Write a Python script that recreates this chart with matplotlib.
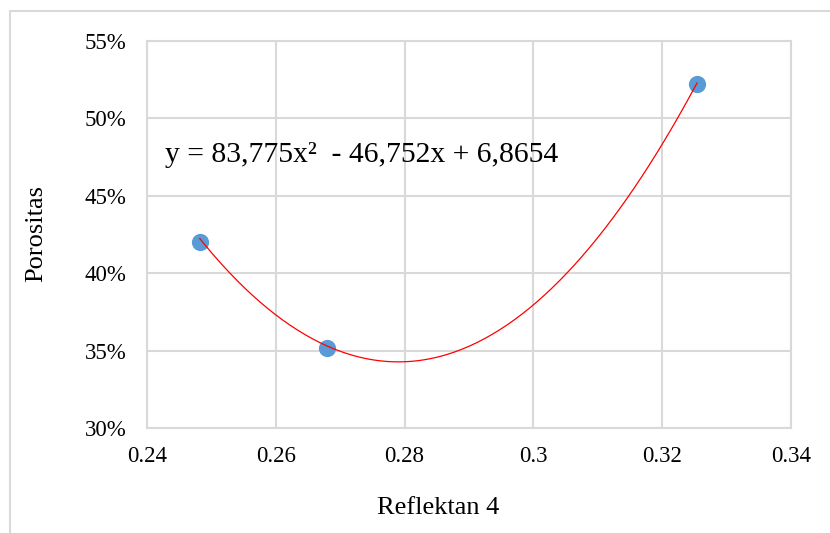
import matplotlib.pyplot as plt
import numpy as np
from matplotlib.ticker import PercentFormatter

# data: reflectance vs porosity
reflektan = [0.2482, 0.2680, 0.3254]
porositas = [0.420, 0.352, 0.522]

# polynomial trendline coefficients (as shown on chart)
coef = [83.775, -46.752, 6.8654]
eq_label = 'y = 83,775x\u00b2  - 46,752x + 6,8654'

x_ticks = [0.24, 0.26, 0.28, 0.30, 0.32, 0.34]
x_tick_labels = ['0.24', '0.26', '0.28', '0.3', '0.32', '0.34']
y_ticks = [0.30, 0.35, 0.40, 0.45, 0.50, 0.55]

plt.rcParams['font.family'] = ['Liberation Serif', 'DejaVu Serif']

fig = plt.figure(figsize=(8.3, 5.33), dpi=100)
ax = fig.add_axes([147 / 830, 1 - 428 / 533, (791 - 147) / 830, (428 - 41) / 533])

# outer chart border (partially clipped like the screenshot)
fig.patches.append(plt.Rectangle((9.5 / 830, -0.1), 1.2, 1 - 11 / 533 + 0.1,
                                 transform=fig.transFigure, fill=False,
                                 edgecolor='#d9d9d9', linewidth=1.5, zorder=0))

ax.scatter(reflektan, porositas, s=130, color='#5b9bd5', zorder=3)

xs = np.linspace(min(reflektan), max(reflektan), 200)
ax.plot(xs, np.polyval(coef, xs), color='#ff0000', linewidth=0.9, zorder=4)

ax.set_xlim(0.24, 0.34)
ax.set_ylim(0.30, 0.55)
ax.set_xticks(x_ticks)
ax.set_xticklabels(x_tick_labels)
ax.set_yticks(y_ticks)
ax.yaxis.set_major_formatter(PercentFormatter(1.0, decimals=0))
ax.tick_params(length=0, labelsize=16.5, colors='black')
ax.tick_params(axis='y', pad=15)
ax.tick_params(axis='x', pad=13)

ax.grid(True, color='#d9d9d9', linewidth=1.5)
ax.set_axisbelow(True)
for s in ax.spines.values():
    s.set_color('#d9d9d9')
    s.set_linewidth(1.5)

# axis titles placed like the original
fig.text(438 / 830, 1 - 508 / 533, 'Reflektan 4', fontsize=19,
         ha='center', va='center')
fig.text(36 / 830, 1 - 234 / 533, 'Porositas', fontsize=19,
         ha='center', va='center', rotation=90)

ax.text(165 / 830, 1 - 155 / 533, eq_label, transform=fig.transFigure,
        fontsize=21.3, va='center', ha='left')

fig.savefig('out.png', dpi=100)
